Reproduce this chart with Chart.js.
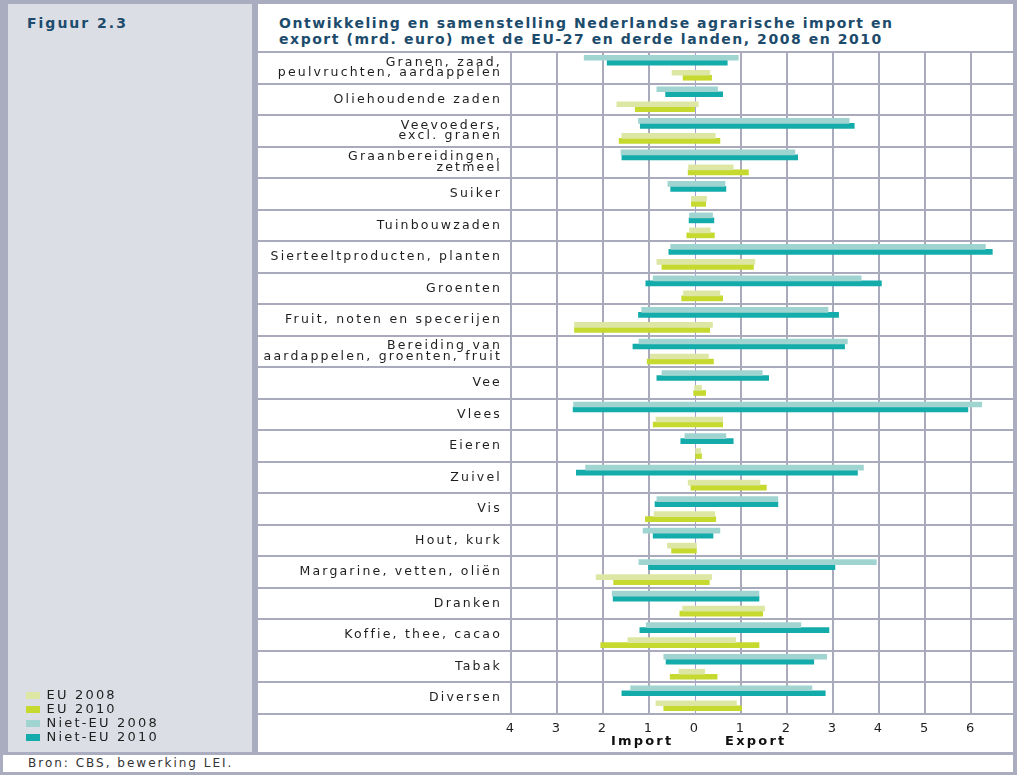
<!DOCTYPE html>
<html lang="nl">
<head>
<meta charset="UTF-8">
<title>Figuur 2.3</title>
<script src="https://cdn.jsdelivr.net/npm/chart.js@4.4.1/dist/chart.umd.min.js"></script>
<style>
  body { margin: 0; background: #fff; font-family: 'DejaVu Sans', sans-serif; }
  .box { position: absolute; }
  #frame { left: 0; top: 0; width: 1017px; height: 775px; background: #aaadbf; }
  #sidebar { left: 8px; top: 4px; width: 244px; height: 748px; background: #dcdee6; }
  #panel { left: 258px; top: 4px; width: 755px; height: 748px; background: #fff; }
  #source { left: 3px; top: 755px; width: 1010px; height: 17px; background: #fff;
            font-size: 12px; line-height: 17px; color: #333; letter-spacing: 2px; padding-left: 25px; box-sizing: border-box; }
  #fig { left: 27px; top: 15px; font-size: 14px; font-weight: bold; color: #1c4b6c; letter-spacing: 2px; }
  #title { left: 279px; top: 15px; font-size: 14px; font-weight: bold; color: #1c4b6c; letter-spacing: 1.55px; line-height: 16px; }
  #chart { position: absolute; left: 25px; top: 44px; }
</style>
</head>
<body>
<div class="box" id="frame"></div>
<div class="box" id="sidebar"></div>
<div class="box" id="panel"></div>
<div class="box" id="source">Bron: CBS, bewerking LEI.</div>
<div class="box" id="fig">Figuur 2.3</div>
<div class="box" id="title">Ontwikkeling en samenstelling Nederlandse agrarische import en<br>export (mrd. euro) met de EU-27 en derde landen, 2008 en 2010</div>
<canvas id="chart" width="988" height="708"></canvas>

<script>
// categorieen (van boven naar beneden)
const categories = [
  ['Granen, zaad,', 'peulvruchten, aardappelen'],
  'Oliehoudende zaden',
  ['Veevoeders,', 'excl. granen'],
  ['Graanbereidingen,', 'zetmeel'],
  'Suiker',
  'Tuinbouwzaden',
  'Sierteeltproducten, planten',
  'Groenten',
  'Fruit, noten en specerijen',
  ['Bereiding van', 'aardappelen, groenten, fruit'],
  'Vee',
  'Vlees',
  'Eieren',
  'Zuivel',
  'Vis',
  'Hout, kurk',
  'Margarine, vetten, oliën',
  'Dranken',
  'Koffie, thee, cacao',
  'Tabak',
  'Diversen'
];

// mrd. euro, import als positief getal (wordt links van 0 getekend)
const eu2008Import     = [0.50, 1.70, 1.59, 0.14, 0.08, 0.12, 0.83, 0.25, 2.62, 0.97, 0.01, 0.85, 0.00, 0.15, 0.89, 0.60, 2.15, 0.27, 1.46, 0.35, 0.85];
const eu2008Export     = [0.32, 0.07, 0.44, 0.83, 0.25, 0.33, 1.30, 0.54, 0.38, 0.29, 0.14, 0.60, 0.12, 1.41, 0.43, 0.03, 0.36, 1.51, 0.88, 0.21, 0.90];
const eu2010Import     = [0.26, 1.30, 1.65, 0.15, 0.08, 0.18, 0.72, 0.29, 2.62, 1.04, 0.03, 0.91, 0.00, 0.09, 1.08, 0.51, 1.77, 0.33, 2.05, 0.54, 0.68];
const eu2010Export     = [0.36, 0.00, 0.54, 1.16, 0.23, 0.42, 1.27, 0.60, 0.32, 0.40, 0.23, 0.60, 0.14, 1.55, 0.45, 0.03, 0.31, 1.47, 1.39, 0.48, 1.01];
const nietEu2008Import = [2.41, 0.83, 1.23, 1.61, 0.59, 0.12, 0.53, 0.91, 1.16, 1.22, 0.72, 2.64, 0.22, 2.38, 0.83, 1.13, 1.22, 1.80, 1.06, 0.68, 1.40];
const nietEu2008Export = [0.94, 0.49, 3.35, 2.17, 0.65, 0.38, 6.31, 3.61, 2.89, 3.31, 1.46, 6.23, 0.67, 3.66, 1.80, 0.54, 3.94, 1.39, 2.30, 2.86, 2.54];
const nietEu2010Import = [1.91, 0.64, 1.19, 1.59, 0.53, 0.13, 0.57, 1.07, 1.23, 1.35, 0.83, 2.65, 0.31, 2.58, 0.87, 0.91, 1.01, 1.78, 1.20, 0.63, 1.59];
const nietEu2010Export = [0.70, 0.60, 3.46, 2.23, 0.67, 0.41, 6.46, 4.05, 3.12, 3.25, 1.60, 5.93, 0.83, 3.53, 1.80, 0.39, 3.04, 1.39, 2.91, 2.58, 2.83];

// as-labels onder de grafiek
const axisWords = ['Import', 'Export'];
const axisWordPos = [-1.15, 1.32];

const GRID = '#a9abbd';

function range(imp, exp) {
  return imp.map((v, i) => [-v, exp[i]]);
}

// canvas tekst heeft wat extra letterafstand nodig,
// en de legenda staat iets hoger dan de onderkant
const tweaks = {
  id: 'tweaks',
  beforeLayout(chart) { chart.ctx.letterSpacing = '2.2px'; },
  afterLayout(chart) { chart.legend.bottom -= 7; },
  beforeDraw(chart) { chart.ctx.letterSpacing = '2.2px'; }
};

Chart.defaults.font.family = "'DejaVu Sans', sans-serif";
Chart.defaults.font.size = 13;
Chart.defaults.color = '#1e1e1e';

// volgorde in de legenda
const legendRank = {'EU 2008': 0, 'EU 2010': 1, 'Niet-EU 2008': 2, 'Niet-EU 2010': 3};

const ctx = document.getElementById('chart').getContext('2d');
const chart = new Chart(ctx, {
  type: 'bar',
  plugins: [tweaks],
  data: {
    labels: categories,
    datasets: [
      { label: 'Niet-EU 2008', data: range(nietEu2008Import, nietEu2008Export), backgroundColor: '#9fd4d1' },
      { label: 'Niet-EU 2010', data: range(nietEu2010Import, nietEu2010Export), backgroundColor: '#13acab' },
      { label: '', data: [] }, // lege rij tussen de twee groepen
      { label: 'EU 2008', data: range(eu2008Import, eu2008Export), backgroundColor: '#dde7a3' },
      { label: 'EU 2010', data: range(eu2010Import, eu2010Export), backgroundColor: '#c5d92e' }
    ]
  },
  options: {
    indexAxis: 'y',
    responsive: false,
    animation: false,
    devicePixelRatio: 1,
    layout: { padding: { top: 8, bottom: 0, left: 0, right: 0 } },
    datasets: {
      bar: { barThickness: 5, borderWidth: 0, xAxisID: 'x' }
    },
    plugins: {
      tooltip: { enabled: false },
      legend: {
        position: 'left',
        align: 'end',
        labels: {
          boxWidth: 14,
          boxHeight: 7,
          padding: 1,
          color: '#1e1e1e',
          font: { size: 13 },
          filter: item => item.text !== '',
          sort: (a, b) => legendRank[a.text] - legendRank[b.text]
        }
      }
    },
    scales: {
      x: {
        type: 'linear',
        position: 'bottom',
        min: -4,
        max: 6.91,
        border: { display: false },
        grid: {
          drawTicks: false,
          color: c => c.tick && c.tick.value === 0 ? '#a3a0d4' : GRID,
          lineWidth: c => c.tick && c.tick.value === 0 ? 1 : 2
        },
        ticks: {
          stepSize: 1,
          includeBounds: false,
          padding: 7,
          color: '#1e1e1e',
          callback: v => Math.abs(v)
        },
        afterFit: s => { s.height = 20; }
      },
      xWords: {
        type: 'linear',
        position: 'bottom',
        min: -4,
        max: 6.91,
        border: { display: false },
        grid: { display: false, drawTicks: false },
        ticks: {
          padding: 0,
          autoSkip: false,
          color: '#111',
          font: { size: 13, weight: 'bold' },
          callback: (v, i) => axisWords[i]
        },
        afterBuildTicks: s => { s.ticks = axisWordPos.map(v => ({ value: v })); },
        afterFit: s => { s.height = 18; }
      },
      y: {
        type: 'category',
        offset: true,
        border: { display: false },
        grid: {
          offset: true,
          color: GRID,
          lineWidth: 2,
          tickLength: 253,
          tickWidth: 2
        },
        ticks: {
          autoSkip: false,
          padding: -244,
          color: '#1e1e1e',
          font: { size: 12.5, lineHeight: 0.85 }
        },
        afterFit: s => { s.width = 486 - s.chart.legend.width; }
      }
    }
  }
});
</script>
</body>
</html>
